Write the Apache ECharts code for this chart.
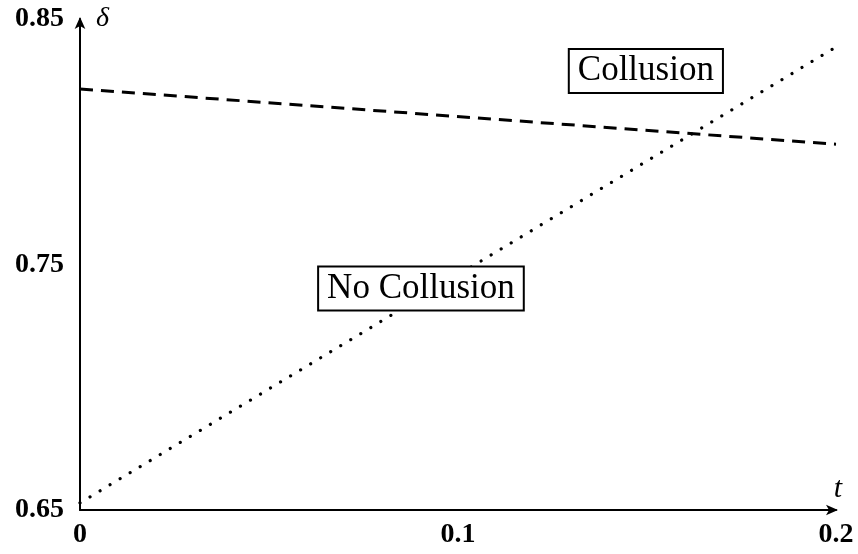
<!DOCTYPE html>
<html>
<head>
<meta charset="utf-8">
<script src="https://cdn.jsdelivr.net/npm/echarts@6/dist/echarts.min.js"></script>
<style>
html,body{margin:0;padding:0;background:#fff;}
#chart{width:858px;height:554px;}
</style>
</head>
<body>
<div id="chart"></div>
<script>
// ---- data ----
var tValues = [0, 0.2];
var collusion = [0.8215, 0.799];      // dashed line
var noCollusion = [0.6529, 0.8386];   // dotted line
var xTicks = [0, 0.1, 0.2];
var yTicks = [0.65, 0.75, 0.85];
var xName = 't';
var yName = 'δ';
var annoCollusion = {text: 'Collusion', at: [0.1497, 0.8288]};
var annoNoCollusion = {text: 'No Collusion', at: [0.0902, 0.7402]};

function pairs(xs, ys) { return xs.map(function (x, i) { return [x, ys[i]]; }); }

var serif = '"Liberation Serif", "DejaVu Serif", serif';
var tickFmtX = function (v) { var s = xTicks.find(function (t) { return Math.abs(t - v) < 1e-9; }); return s === undefined ? '' : String(s); };
var tickFmtY = function (v) { var s = yTicks.find(function (t) { return Math.abs(t - v) < 1e-9; }); return s === undefined ? '' : s.toFixed(2); };

function annoSeries(a) {
  return {
    type: 'scatter', silent: true, symbolSize: 0,
    itemStyle: {opacity: 1},
    data: [a.at],
    label: {
      show: true, position: 'inside', formatter: a.text,
      fontFamily: serif, fontSize: 35, color: '#000', lineHeight: 35,
      textBorderWidth: 0,
      backgroundColor: '#fff', borderColor: '#000', borderWidth: 2,
      padding: [4, 8, 3, 8]
    },
    z: 5
  };
}

var chart = echarts.init(document.getElementById('chart'), null, {renderer: 'canvas'});
chart.setOption({
  animation: false,
  backgroundColor: '#fff',
  grid: {left: 80, right: 22, top: 19, bottom: 44, containLabel: false},
  xAxis: {
    type: 'value', min: xTicks[0], max: xTicks[xTicks.length - 1], interval: 0.1,
    name: xName, nameLocation: 'end', nameGap: 2,
    nameTextStyle: {fontFamily: serif, fontStyle: 'italic', fontSize: 30, color: '#000',
      align: 'center', verticalAlign: 'bottom', padding: [0, 0, 6, 0]},
    axisLine: {show: true, symbol: ['none', 'arrow'], symbolSize: [8, 12], symbolOffset: [0, 2],
      lineStyle: {color: '#000', width: 2}},
    axisTick: {show: false},
    splitLine: {show: false},
    axisLabel: {formatter: tickFmtX, fontFamily: serif, fontWeight: 'bold', fontSize: 28, color: '#000', margin: 11,
      showMinLabel: true, showMaxLabel: true}
  },
  yAxis: {
    type: 'value', min: yTicks[0], max: yTicks[yTicks.length - 1], interval: 0.1,
    name: yName, nameLocation: 'end', nameGap: 0,
    nameTextStyle: {fontFamily: serif, fontStyle: 'italic', fontSize: 28, color: '#000',
      align: 'left', verticalAlign: 'middle', padding: [0, 0, 0, 16]},
    axisLine: {show: true, symbol: ['none', 'arrow'], symbolSize: [8, 12], symbolOffset: [0, 2],
      lineStyle: {color: '#000', width: 2}},
    axisTick: {show: false},
    splitLine: {show: false},
    axisLabel: {formatter: tickFmtY, fontFamily: serif, fontWeight: 'bold', fontSize: 28, color: '#000', margin: 16,
      showMinLabel: true, showMaxLabel: true}
  },
  series: [
    {
      type: 'line', silent: true, showSymbol: false, symbol: 'none',
      data: pairs(tValues, collusion),
      lineStyle: {color: '#000', width: 3, type: [13, 8]}
    },
    {
      type: 'line', silent: true, showSymbol: false, symbol: 'none',
      data: pairs(tValues, noCollusion),
      lineStyle: {color: '#000', width: 3.2, type: [0.01, 11.7], cap: 'round'}
    },
    annoSeries(annoCollusion),
    annoSeries(annoNoCollusion)
  ]
});
</script>
</body>
</html>
